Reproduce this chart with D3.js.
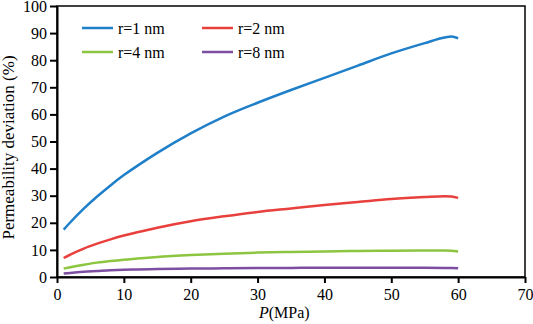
<!DOCTYPE html>
<html>
<head>
<meta charset="utf-8">
<script src="https://cdn.jsdelivr.net/npm/d3@7"></script>
<style>
  html, body { margin: 0; padding: 0; background: #fff; }
  .axis path, .axis line { stroke: #000; stroke-width: 2; }
</style>
</head>
<body>
<div id="chart"></div>
<script>
// pressure (MPa)
var pressure = [1, 2, 4, 6, 8, 10, 12, 15, 20, 25, 30, 35, 40, 45, 50, 55, 58, 59, 60]
// permeability deviation (%) per pore radius
var r1 = [17.5, 20.2, 25.2, 29.7, 33.8, 37.6, 41, 45.8, 53, 59.2, 64.3, 69, 73.5, 78, 82.5, 86.3, 88.4, 88.7, 88.1]
var r2 = [7, 8.3, 10.5, 12.3, 13.9, 15.3, 16.5, 18.2, 20.6, 22.4, 24, 25.3, 26.6, 27.7, 28.8, 29.5, 29.8, 29.7, 29.2]
var r4 = [3.1, 3.6, 4.5, 5.3, 5.9, 6.4, 6.8, 7.4, 8.1, 8.6, 9, 9.25, 9.45, 9.6, 9.7, 9.8, 9.8, 9.7, 9.45]
var r8 = [1.3, 1.5, 1.9, 2.2, 2.5, 2.7, 2.8, 2.95, 3.1, 3.2, 3.3, 3.35, 3.4, 3.4, 3.4, 3.4, 3.35, 3.3, 3.2]

var seriesNames = ["r=1 nm", "r=2 nm", "r=4 nm", "r=8 nm"]
var seriesColors = ["#1f7fc9", "#e8403d", "#8cc540", "#7d4fa2"]
var xTicks = [0, 10, 20, 30, 40, 50, 60, 70]
var yTicks = [0, 10, 20, 30, 40, 50, 60, 70, 80, 90, 100]

var width = 533, height = 324
var margin = { top: 6, right: 8, bottom: 47, left: 57 }
var serif = "'Liberation Serif', 'Times New Roman', serif"

var svg = d3.select("#chart").append("svg")
  .attr("width", width)
  .attr("height", height)
  .attr("font-family", serif)
  .style("display", "block")

var xScale = d3.scaleLinear()
  .domain([0, 70])
  .range([margin.left, width - margin.right])

var yScale = d3.scaleLinear()
  .domain([0, 100])
  .range([height - margin.bottom, margin.top])

// frame (top and right)
svg.append("rect")
  .attr("x", xScale(0))
  .attr("y", yScale(100))
  .attr("width", xScale(70) - xScale(0))
  .attr("height", yScale(0) - yScale(100))
  .style("fill", "none")
  .style("stroke", "#000")
  .style("stroke-width", 1.5)

// X axis
svg.append("g")
  .attr("class", "axis")
  .attr("transform", "translate(0," + yScale(0) + ")")
  .call(d3.axisBottom(xScale).tickValues(xTicks).tickSize(6).tickSizeOuter(0).tickPadding(6))
  .attr("font-family", serif)
  .attr("font-size", 16)
  .selectAll("text").attr("fill", "#000")

// Y axis
svg.append("g")
  .attr("class", "axis")
  .attr("transform", "translate(" + xScale(0) + ",0)")
  .call(d3.axisLeft(yScale).tickValues(yTicks).tickSize(7).tickSizeOuter(0).tickPadding(3))
  .attr("font-family", serif)
  .attr("font-size", 16)
  .selectAll("text").attr("fill", "#000")

// axis titles
var xLabel = svg.append("text")
  .attr("x", xScale(34))
  .attr("y", 318)
  .attr("text-anchor", "middle")
  .attr("font-size", 16)
xLabel.append("tspan").style("font-style", "italic").text("P")
xLabel.append("tspan").text("(MPa)")

svg.append("text")
  .attr("transform", "translate(14,147.5) rotate(-90)")
  .attr("text-anchor", "middle")
  .attr("font-size", 17)
  .text("Permeability deviation (%)")

var line = d3.line()
  .x(function(d) { return xScale(d.x) })
  .y(function(d) { return yScale(d.y) })
  .curve(d3.curveMonotoneX)

var allSeries = [r1, r2, r4, r8]
allSeries.forEach(function(values, i) {
  var data = pressure.map(function(p, j) { return { x: p, y: values[j] } })
  svg.append("path")
    .datum(data)
    .attr("d", line)
    .style("fill", "none")
    .style("stroke", seriesColors[i])
    .style("stroke-width", 2.5)
})

// legend
var legendX = [82, 202]
var legendY = [28, 52]
seriesNames.forEach(function(name, i) {
  var lx = legendX[i % 2]
  var ly = legendY[Math.floor(i / 2)]
  svg.append("line")
    .attr("x1", lx)
    .attr("x2", lx + 31)
    .attr("y1", ly)
    .attr("y2", ly)
    .style("stroke", seriesColors[i])
    .style("stroke-width", 2.5)
  svg.append("text")
    .attr("x", lx + 36)
    .attr("y", ly + 5.5)
    .attr("font-size", 16)
    .text(name)
})
</script>
</body>
</html>
